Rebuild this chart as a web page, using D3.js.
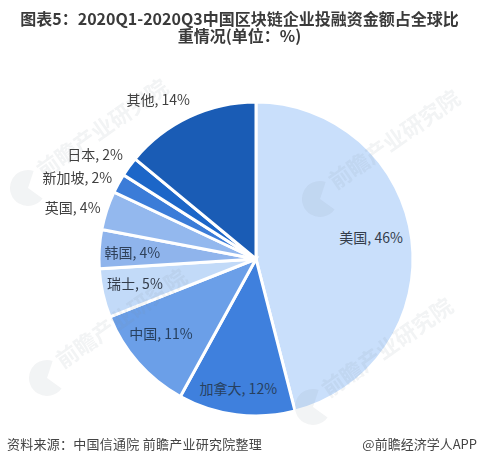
<!DOCTYPE html>
<html>
<head>
<meta charset="utf-8">
<script src="https://cdn.jsdelivr.net/npm/d3@7"></script>
<style>
  body { margin: 0; background: #fff; }
  text { font-family: "Noto Sans CJK SC", sans-serif; }
</style>
</head>
<body>
<svg width="479" height="465"></svg>
<script>
var categories = ["美国", "加拿大", "中国", "瑞士", "韩国", "英国", "新加坡", "日本", "其他"];
var shares = [46, 12, 11, 5, 4, 4, 2, 2, 14];
var sliceColors = ["#c9dffb", "#3f80dd", "#6b9fe8", "#c2daf8", "#8fb4ec", "#93b8ee", "#3b7cd8", "#1c66c8", "#1a5cb5"];

// label placement per slice: radius from centre, then a small nudge
var labelRadius = [116, 133, 122, 122, 124, 157, 157, 157, 157];
var labelNudge = [[0, -6.5], [-1, -2], [-3.5, -6], [-2, -2], [0, 2], [-34, -2.5], [-41, -5], [-34, -12], [-31, -17]];
var labelColors = ["#333c4a", "#27405f", "#27405f", "#333c4a", "#2f4059", "#404040", "#404040", "#404040", "#404040"];

var titleLines = ["图表5：2020Q1-2020Q3中国区块链企业投融资金额占全球比", "重情况(单位：%)"];
var sourceText = "资料来源：中国信通院 前瞻产业研究院整理";
var brandText = "@前瞻经济学人APP";
var watermarkText = "前瞻产业研究院";
var watermarkSpots = [[28, 188], [320, 199], [47, 378], [313, 407]];

var svg = d3.select("svg");
var cx = 256, cy = 259, radius = 157;

var pie = d3.pie().sort(null).value(function (d) { return d; });
var arc = d3.arc().innerRadius(0).outerRadius(radius);
var slices = pie(shares);

var g = svg.append("g").attr("transform", "translate(" + cx + "," + cy + ")");
g.selectAll("path")
    .data(slices)
    .enter().append("path")
    .attr("d", arc)
    .attr("fill", function (d, i) { return sliceColors[i]; })
    .attr("stroke", "#fff")
    .attr("stroke-width", 3);

// watermark sits over the slices, faint enough to let them show through
var logoArc = d3.arc().innerRadius(0).outerRadius(18);
var marks = svg.append("g").attr("fill", "#7f8a94").attr("opacity", 0.1);
watermarkSpots.forEach(function (p) {
    var m = marks.append("g").attr("transform", "translate(" + p[0] + "," + p[1] + ")");
    m.append("path").attr("d", logoArc({ startAngle: 2.2, endAngle: 6.6 }));
    m.append("text")
        .attr("transform", "rotate(-35)")
        .attr("x", 18)
        .attr("y", 2)
        .attr("font-size", 22)
        .attr("font-weight", 700)
        .text(watermarkText);
});

var labels = svg.append("g").attr("transform", "translate(" + cx + "," + cy + ")");
labels.selectAll("text")
    .data(slices)
    .enter().append("text")
    .attr("transform", function (d, i) {
        var a = (d.startAngle + d.endAngle) / 2;
        var x = Math.sin(a) * labelRadius[i] + labelNudge[i][0];
        var y = -Math.cos(a) * labelRadius[i] + labelNudge[i][1];
        return "translate(" + x + "," + y + ")";
    })
    .attr("text-anchor", "middle")
    .attr("dy", "0.35em")
    .attr("font-size", 14)
    .attr("fill", function (d, i) { return labelColors[i]; })
    .text(function (d, i) { return categories[i] + ", " + shares[i] + "%"; });

svg.selectAll(".title")
    .data(titleLines)
    .enter().append("text")
    .attr("class", "title")
    .attr("x", 239.5)
    .attr("y", function (d, i) { return 25 + i * 17; })
    .attr("text-anchor", "middle")
    .attr("font-size", 16)
    .attr("font-weight", 700)
    .attr("fill", "#3a3a3a")
    .text(function (d) { return d; });

svg.append("text").attr("x", 7).attr("y", 449).attr("font-size", 13).attr("letter-spacing", 0.25).attr("fill", "#444").text(sourceText);
svg.append("text").attr("x", 477).attr("y", 449).attr("text-anchor", "end").attr("font-size", 13).attr("fill", "#444").text(brandText);
</script>
</body>
</html>
